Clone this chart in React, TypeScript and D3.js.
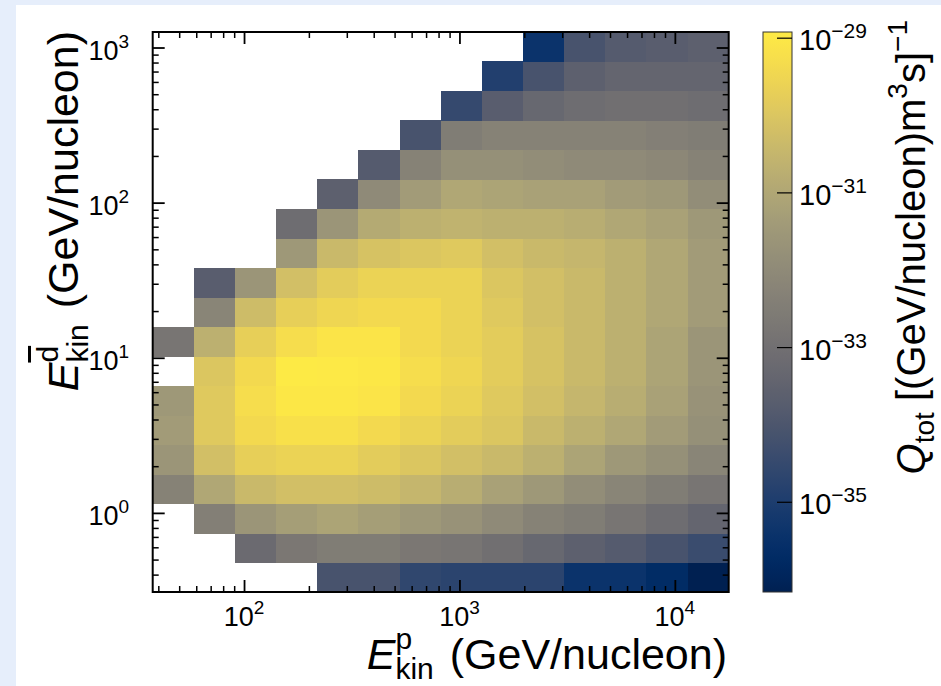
import * as d3 from 'd3';
import { useEffect, useRef } from 'react';

// bin edges, log10 of GeV/nucleon
const xEdgesLog = [1.576, 1.767, 1.958, 2.149, 2.34, 2.531, 2.722, 2.913, 3.104, 3.295, 3.486, 3.677, 3.868, 4.059, 4.25];
const yEdgesLog = [-0.51, -0.32, -0.13, 0.06, 0.25, 0.44, 0.63, 0.82, 1.01, 1.2, 1.39, 1.58, 1.77, 1.96, 2.15, 2.34, 2.53, 2.72, 2.91, 3.1];

// log10 Q_tot, one row per antideuteron bin (bottom -> top), columns follow the proton bins
const q00 = [null, null, null, null, -34.1, -34.1, -34.6, -34.7, -34.7, -34.7, -35.4, -35.4, -35.7, -36.16];
const q01 = [null, null, -33.2, -32.7, -32.5, -32.5, -32.7, -32.8, -33.0, -33.3, -33.6, -33.8, -34.1, -34.4];
const q02 = [null, -32.4, -31.6, -31.3, -31.1, -31.3, -31.5, -31.7, -32.0, -32.3, -32.5, -32.8, -33.1, -33.4];
const q03 = [-32.3, -31.0, -30.4, -30.2, -30.2, -30.3, -30.5, -30.8, -31.2, -31.5, -31.9, -32.2, -32.5, -32.8];
const q04 = [-31.6, -30.2, -29.7, -29.6, -29.6, -29.8, -30.0, -30.2, -30.4, -30.7, -31.1, -31.5, -31.8, -32.2];
const q05 = [-31.4, -29.9, -29.4, -29.2, -29.2, -29.4, -29.6, -29.8, -30.0, -30.4, -30.7, -31.0, -31.4, -31.8];
const q06 = [-31.5, -29.9, -29.3, -29.0, -29.0, -29.1, -29.4, -29.6, -29.9, -30.2, -30.5, -30.8, -31.2, -31.7];
const q07 = [null, -30.0, -29.4, -28.92, -28.95, -29.0, -29.3, -29.5, -29.8, -30.1, -30.4, -30.7, -31.1, -31.6];
const q08 = [-32.8, -30.7, -29.7, -29.3, -29.1, -29.1, -29.4, -29.6, -29.8, -30.1, -30.4, -30.7, -31.1, -31.6];
const q09 = [null, -32.2, -30.3, -29.7, -29.5, -29.4, -29.4, -29.6, -29.9, -30.2, -30.4, -30.7, -31.0, -31.4];
const q10 = [null, -33.7, -31.6, -30.2, -29.8, -29.6, -29.6, -29.6, -30.0, -30.2, -30.4, -30.7, -31.0, -31.4];
const q11 = [null, null, null, -31.5, -30.4, -30.1, -30.0, -29.9, -30.2, -30.4, -30.5, -30.7, -31.0, -31.4];
const q12 = [null, null, null, -33.1, -31.6, -30.9, -30.7, -30.6, -30.7, -30.7, -30.8, -31.0, -31.2, -31.5];
const q13 = [null, null, null, null, -33.6, -32.0, -31.4, -31.0, -31.1, -31.2, -31.2, -31.4, -31.5, -31.9];
const q14 = [null, null, null, null, null, -33.8, -32.3, -31.8, -31.8, -31.9, -32.0, -32.0, -32.1, -32.3];
const q15 = [null, null, null, null, null, null, -34.1, -32.5, -32.3, -32.3, -32.3, -32.3, -32.4, -32.5];
const q16 = [null, null, null, null, null, null, null, -34.5, -33.7, -33.3, -33.1, -33.0, -33.0, -33.1];
const q17 = [null, null, null, null, null, null, null, null, -34.9, -34.1, -33.6, -33.4, -33.4, -33.4];
const q18 = [null, null, null, null, null, null, null, null, null, -35.4, -34.1, -33.8, -33.7, -33.6];
const qRows = [q00, q01, q02, q03, q04, q05, q06, q07, q08, q09, q10, q11, q12, q13, q14, q15, q16, q17, q18];

const xMajor = [1e2, 1e3, 1e4];
const yMajor = [1, 10, 100, 1000];
const cbTicks = [-29, -31, -33, -35];

const FONT = "'Liberation Sans', Arial, Helvetica, sans-serif";

type Seg = { t: string; size: number; italic?: boolean; dy?: number; over?: boolean };

// lays out runs of text; runs inside one group share x (stacked sub/sup)
function mathLabel(g: any, groups: Seg[][], gap = 0) {
  let cx = 0;
  groups.forEach(group => {
    let w = 0;
    group.forEach(s => {
      const t = g.append('text')
        .attr('x', cx)
        .attr('y', s.dy || 0)
        .attr('font-size', s.size)
        .attr('font-style', s.italic ? 'italic' : 'normal')
        .style('white-space', 'pre')
        .text(s.t);
      if (s.over) t.attr('text-decoration', 'overline');
      w = Math.max(w, t.node().getComputedTextLength());
    });
    cx += w + (group.length > 1 ? gap : 0);
  });
  return cx;
}

function minorTicks(lo: number, hi: number) {
  const out: number[] = [];
  for (let k = Math.floor(Math.log10(lo)); k <= Math.ceil(Math.log10(hi)); k++) {
    for (let m = 2; m <= 9; m++) {
      const v = m * 10 ** k;
      if (v >= lo && v <= hi) out.push(v);
    }
  }
  return out;
}

const App = () => {
  const ref = useRef<SVGSVGElement>(null);

  useEffect(() => {
    const svg = d3.select(ref.current);
    svg.selectAll('*').remove();
    svg.attr('font-family', FONT);

    // фон
    svg.append('rect').attr('width', 941).attr('height', 686).attr('fill', '#e6eefb');
    svg.append('rect').attr('x', 16).attr('y', 5).attr('width', 925).attr('height', 681).attr('fill', '#ffffff');

    const left = 152.7, right = 728.7, top = 32, bottom = 592;
    const xDom = [10 ** xEdgesLog[0], 10 ** xEdgesLog[xEdgesLog.length - 1]];
    const yDom = [10 ** yEdgesLog[0], 10 ** yEdgesLog[yEdgesLog.length - 1]];
    const x = d3.scaleLog().domain(xDom).range([left, right]);
    const y = d3.scaleLog().domain(yDom).range([bottom, top]);

    const all = qRows.flat().filter(v => v != null) as number[];
    const [qMin, qMax] = d3.extent(all) as [number, number];
    const color = d3.scaleSequential(d3.interpolateCividis).domain([qMin, qMax]);

    // cells
    const cells: { i: number; j: number; v: number }[] = [];
    qRows.forEach((row, j) => row.forEach((v, i) => { if (v != null) cells.push({ i, j, v }); }));
    svg.append('g').selectAll('rect').data(cells).enter().append('rect')
      .attr('x', d => x(10 ** xEdgesLog[d.i]))
      .attr('width', d => x(10 ** xEdgesLog[d.i + 1]) - x(10 ** xEdgesLog[d.i]) + 0.5)
      .attr('y', d => y(10 ** yEdgesLog[d.j + 1]))
      .attr('height', d => y(10 ** yEdgesLog[d.j]) - y(10 ** yEdgesLog[d.j + 1]) + 0.5)
      .attr('fill', d => color(d.v))
      .attr('shape-rendering', 'crispEdges');

    // ticks, inward on all four sides
    const xMinor = minorTicks(xDom[0], xDom[1]);
    const yMinor = minorTicks(yDom[0], yDom[1]);
    const addAxis = (axis: any, tr: string, vals: number[], size: number, w: number) => {
      svg.append('g').attr('transform', tr)
        .call(axis.tickValues(vals).tickSizeInner(-size).tickSizeOuter(0).tickFormat(() => ''))
        .call((g: any) => g.select('.domain').remove())
        .selectAll('line').attr('stroke', '#000').attr('stroke-width', w);
    };
    [[xMajor, 12, 1.8], [xMinor, 6, 1.5]].forEach(([v, s, w]: any) => {
      addAxis(d3.axisBottom(x), `translate(0,${bottom})`, v, s, w);
      addAxis(d3.axisTop(x), `translate(0,${top})`, v, s, w);
    });
    [[yMajor, 12, 1.8], [yMinor, 6, 1.5]].forEach(([v, s, w]: any) => {
      addAxis(d3.axisLeft(y), `translate(${left},0)`, v, s, w);
      addAxis(d3.axisRight(y), `translate(${right},0)`, v, s, w);
    });

    svg.append('rect')
      .attr('x', left).attr('y', top).attr('width', right - left).attr('height', bottom - top)
      .attr('fill', 'none').attr('stroke', '#000').attr('stroke-width', 2);

    // tick labels
    const powLabel = (sel: any, exp: string, sup: number) => {
      sel.append('tspan').text('10');
      sel.append('tspan').attr('dy', -12).attr('font-size', sup).text(exp);
    };
    xMajor.forEach(v => {
      const t = svg.append('text').attr('x', x(v)).attr('y', 626).attr('text-anchor', 'middle').attr('font-size', 27);
      powLabel(t, String(Math.round(Math.log10(v))), 19);
    });
    yMajor.forEach(v => {
      const t = svg.append('text').attr('x', 129).attr('y', y(v) + 12).attr('text-anchor', 'end').attr('font-size', 27);
      powLabel(t, String(Math.round(Math.log10(v))), 19);
    });

    // axis labels
    const xl = svg.append('g');
    const xw = mathLabel(xl, [
      [{ t: 'E', size: 43, italic: true }],
      [{ t: 'kin', size: 30, dy: 10 }, { t: 'p', size: 30, dy: -20 }],
      [{ t: '\u00a0(GeV/nucleon)', size: 43 }],
    ], 4);
    xl.attr('transform', `translate(${727 - xw},669)`);

    const yl = svg.append('g');
    const yw = mathLabel(yl, [
      [{ t: 'E', size: 43, italic: true }],
      [{ t: 'kin', size: 30, dy: 10 }, { t: 'd', size: 30, dy: -20, over: true }],
      [{ t: '\u00a0(GeV/nucleon)', size: 43 }],
    ], 4);
    yl.attr('transform', `translate(78,${31 + yw}) rotate(-90)`);

    // colorbar
    const cbX = 763, cbW = 29;
    const cy = d3.scaleLinear().domain([qMin, qMax]).range([bottom, top]);
    const grad = svg.append('defs').append('linearGradient')
      .attr('id', 'cb').attr('x1', 0).attr('y1', 1).attr('x2', 0).attr('y2', 0);
    d3.range(0, 1.0001, 0.02).forEach(t => {
      grad.append('stop').attr('offset', t).attr('stop-color', d3.interpolateCividis(t));
    });
    svg.append('rect')
      .attr('x', cbX).attr('y', top).attr('width', cbW).attr('height', bottom - top)
      .attr('fill', 'url(#cb)').attr('stroke', '#333').attr('stroke-width', 1);
    cbTicks.forEach(v => {
      svg.append('line')
        .attr('x1', cbX + cbW - 15).attr('x2', cbX + cbW)
        .attr('y1', cy(v)).attr('y2', cy(v))
        .attr('stroke', '#000').attr('stroke-width', 1.2);
      const t = svg.append('text').attr('x', 799).attr('y', cy(v) + 12).attr('font-size', 29);
      powLabel(t, '\u2212' + String(-v), 21);
    });

    const cl = svg.append('g');
    const cw = mathLabel(cl, [
      [{ t: 'Q', size: 40, italic: true }],
      [{ t: 'tot', size: 28, dy: 9 }],
      [{ t: '\u00a0[(GeV/nucleon)m', size: 40 }],
      [{ t: '3', size: 28, dy: -18 }],
      [{ t: 's]', size: 40 }],
      [{ t: '\u22121', size: 28, dy: -18 }],
    ]);
    cl.attr('transform', `translate(925,${20 + cw}) rotate(-90)`);
  }, []);

  return (
    <svg ref={ref} width="941" height="686" style={{ position: 'absolute', left: 0, top: 0, display: 'block' }}></svg>
  );
};

export default App;
